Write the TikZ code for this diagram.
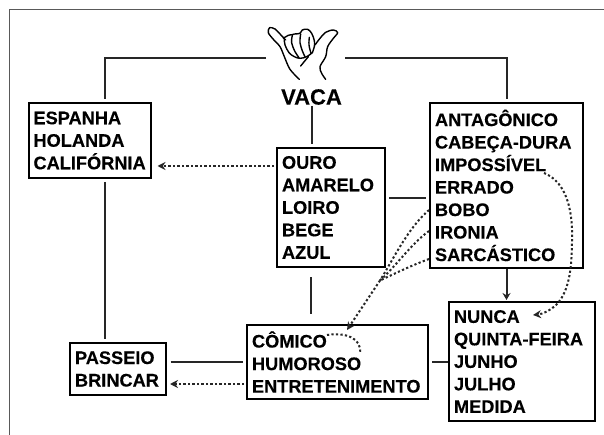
\documentclass[tikz,border=0pt]{standalone}
\usepackage{fontspec}
\setmainfont{Liberation Sans}[BoldFeatures={FakeBold=0.25}]
\usetikzlibrary{arrows.meta}
\tikzset{
  x=1pt,y=-1pt,
  box/.style={draw=black,line width=2pt,fill=white,inner xsep=5pt,inner ysep=0pt,align=left,
    font=\fontsize{18.2}{22.5}\selectfont\bfseries},
  conn/.style={line width=2pt,black!85},
  dots/.style={line width=2pt,black!85,dash pattern=on 2.2pt off 2.3pt},
  tipd/.style={-{Stealth[length=8pt,width=8pt]}},
  frameline/.style={line width=1.6pt,black!65},
  handline/.style={line width=1.4pt,black,line join=round,line cap=round}
}
\newcommand{\boxnode}[7]{%
  \node[box,name=#1,minimum width=#2pt,minimum height=#3pt,text width=#6pt,#7] at (#4,#5)}
\begin{document}
\begin{tikzpicture}
\useasboundingbox (0,0) rectangle (604,435);
\draw[frameline] (9.5,435) -- (9.5,9.5) -- (604,9.5);

\boxnode{espanha}{122}{75}{89.5}{140.5}{112}{}{ESPANHA\\HOLANDA\\CALIFÓRNIA};
\boxnode{ouro}{108}{119}{331}{207.5}{98}{}{OURO\\AMARELO\\LOIRO\\BEGE\\AZUL};
\boxnode{antag}{153}{165}{506.5}{185.5}{143}{}{ANTAGÔNICO\\CABEÇA-DURA\\IMPOSSÍVEL\\ERRADO\\BOBO\\IRONIA\\SARCÁSTICO};
\boxnode{nunca}{146}{119}{522}{361.5}{136}{}{NUNCA\\QUINTA-FEIRA\\JUNHO\\JULHO\\MEDIDA};
\boxnode{comico}{181}{74}{337.5}{362}{171}{}{CÔMICO\\HUMOROSO\\ENTRETENIMENTO};
\boxnode{passeio}{96}{52}{118}{369}{86}{}{PASSEIO\\BRINCAR};

\node[name=vaca,font=\fontsize{22}{24}\selectfont\bfseries,inner sep=0pt] at (311.5,97) {VACA};
\coordinate (hl) at (266,58);
\coordinate (hr) at (345,58);

% hand
\begin{scope}[shift={(255,10)},x=0.3333pt,y=-0.3333pt]
\draw[handline] plot[smooth,tension=0.55] coordinates {(133,208) (105,178) (88,140) (75,110) (55,88) (40,68) (44,53) (60,57) (75,72) (92,90)};
\draw[handline] plot[smooth,tension=0.6] coordinates {(85,85) (100,76) (112,74) (118,72) (135,70) (142,60) (158,58) (170,70) (178,92) (178,110) (172,128)};
\draw[handline] plot[smooth,tension=0.6] coordinates {(88,88) (90,105) (102,128) (118,140) (135,145) (155,140) (172,128)};
\draw[handline] plot[smooth,tension=0.6] coordinates {(112,76) (110,98) (120,125) (132,143)};
\draw[handline] plot[smooth,tension=0.6] coordinates {(137,72) (135,98) (143,125) (150,140)};
\draw[handline] plot[smooth,tension=0.6] coordinates {(163,82) (162,105) (168,130)};
\draw[handline] (160,140) -- (137,168);
\draw[handline] plot[smooth,tension=0.55] coordinates {(180,105) (195,85) (212,67) (235,60) (248,68) (235,85) (218,110) (212,140) (195,170) (200,190) (212,208)};
\end{scope}

% solid connectors
\draw[conn] (hl) -| ([xshift=15.5pt,yshift=3pt]espanha.north);
\draw[conn] (hr) -| ([yshift=2.5pt]antag.north);
\draw[conn] ([yshift=-1pt]vaca.south) -- ([yshift=3pt]vaca.south |- ouro.north);
\draw[conn] ([xshift=3pt,yshift=9.5pt]ouro.east) -- ([xshift=-3.5pt,yshift=-12.5pt]antag.west);
\draw[conn] ([xshift=-20pt,yshift=-9pt]ouro.south) -- ([xshift=-26.5pt,yshift=10pt]comico.north);
\draw[conn] ([xshift=15.5pt,yshift=-3pt]espanha.south) -- ([xshift=-13pt,yshift=3pt]passeio.north);
\draw[conn] ([xshift=3.5pt,yshift=7pt]passeio.east) -- ([xshift=-3.5pt]comico.west);
\draw[conn] ([xshift=3pt]comico.east) -- ([yshift=-.5pt]nunca.west);
\draw[conn,-{Stealth[length=7pt,width=8pt]}] (antag.south) -- ([yshift=1pt]antag.south |- nunca.north);

% dotted connectors
\draw[dots,tipd] ([xshift=-2pt,yshift=41.5pt]ouro.west) -- ([xshift=6pt,yshift=-25.5pt]espanha.east);
\draw[dots,tipd] ([xshift=-2pt,yshift=-22pt]comico.west) -- ([xshift=3pt,yshift=-15pt]passeio.east);
\coordinate (jn) at (380,280.5);
\draw[dots] ([yshift=-24.5pt]antag.west) .. controls (408,228) and (394,258) .. (jn);
\draw[dots] ([yshift=-45.5pt]antag.west) .. controls (412,243) and (396,266) .. (jn);
\draw[dots] ([yshift=-73.5pt]antag.west) .. controls (410,266) and (394,274) .. (jn);
\draw[dots,tipd] (jn) -- ([xshift=9.5pt,yshift=-6pt]comico.north);
\draw[dots,tipd] ([xshift=37.5pt,yshift=12.5pt]antag.center) .. controls (564,181) and (573,205) .. (572,240) .. controls (572,272) and (568,292) .. (557,304) .. controls (551,310) and (543,314) .. ([xshift=11pt,yshift=-14pt]nunca.north);
\draw[dots] ([xshift=-10.5pt,yshift=27pt]comico.center) .. controls (345,332) and (362,338) .. ([xshift=22.5pt,yshift=9pt]comico.center);
\end{tikzpicture}
\end{document}
